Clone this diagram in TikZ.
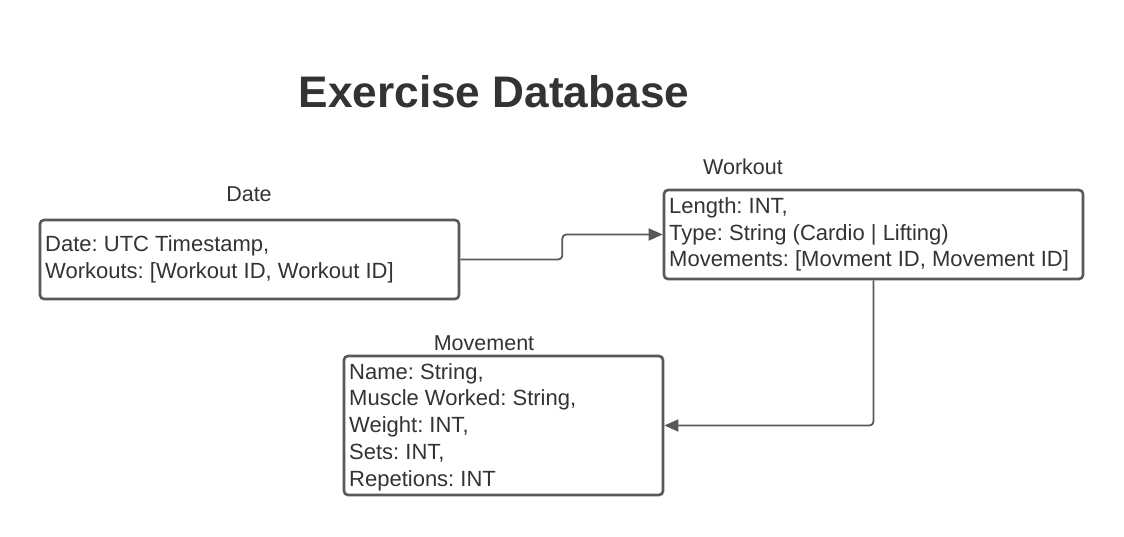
\documentclass[tikz,border=0pt]{standalone}
\usepackage{fontspec}
\setmainfont{Liberation Sans}
\usetikzlibrary{arrows.meta}
\definecolor{linegray}{HTML}{595959}
\definecolor{txtgray}{HTML}{333333}
\frenchspacing
\begin{document}
\begin{tikzpicture}[x=1pt,y=-1pt,
  box/.style={draw=linegray, line width=2.6pt, rounded corners=4pt, inner sep=0pt},
  body/.style={anchor=west, align=left, inner sep=0pt, text=txtgray, font=\frenchspacing\fontsize{22}{26.8}\selectfont},
  label/.style={text=txtgray, inner sep=0pt, font=\fontsize{21.5}{25}\selectfont},
  conn/.style={draw=linegray, line width=1.8pt, rounded corners=4pt, -{Triangle[length=14pt,width=12pt]}}]
\useasboundingbox (0,0) rectangle (1124,537);
\node[text=txtgray, inner sep=0pt, font=\fontsize{44.2}{50}\selectfont\bfseries] (title) at (494,92) {Exercise Database};

\node[box, minimum width=419pt, minimum height=79pt] (date) at (249.5,259.5) {};
\node[label] (datelbl) at (249,194) {Date};
\node[body] (datetxt) at (45,259) {Date: UTC Timestamp,\\Workouts: [Workout ID, Workout ID]};

\node[box, minimum width=419pt, minimum height=89pt] (workout) at (873.5,234.5) {};
\node[label] (workoutlbl) at (743,167) {Workout};
\node[body] (workouttxt) at (669,234.5) {Length: INT,\\Type: String (Cardio | Lifting)\\Movements: [Movment ID, Movement ID]};

\node[box, minimum width=319pt, minimum height=139pt] (movement) at (503.5,425.5) {};
\node[label] (movementlbl) at (484,343) {Movement};
\node[body] (movementtxt) at (349,427) {Name: String,\\Muscle Worked: String,\\Weight: INT,\\Sets: INT,\\Repetions: INT};

\draw[conn] (date.east) -- ++(102,0) |- (workout.west);
\draw[conn] (workout.south) |- (movement.east);
\end{tikzpicture}
\end{document}
